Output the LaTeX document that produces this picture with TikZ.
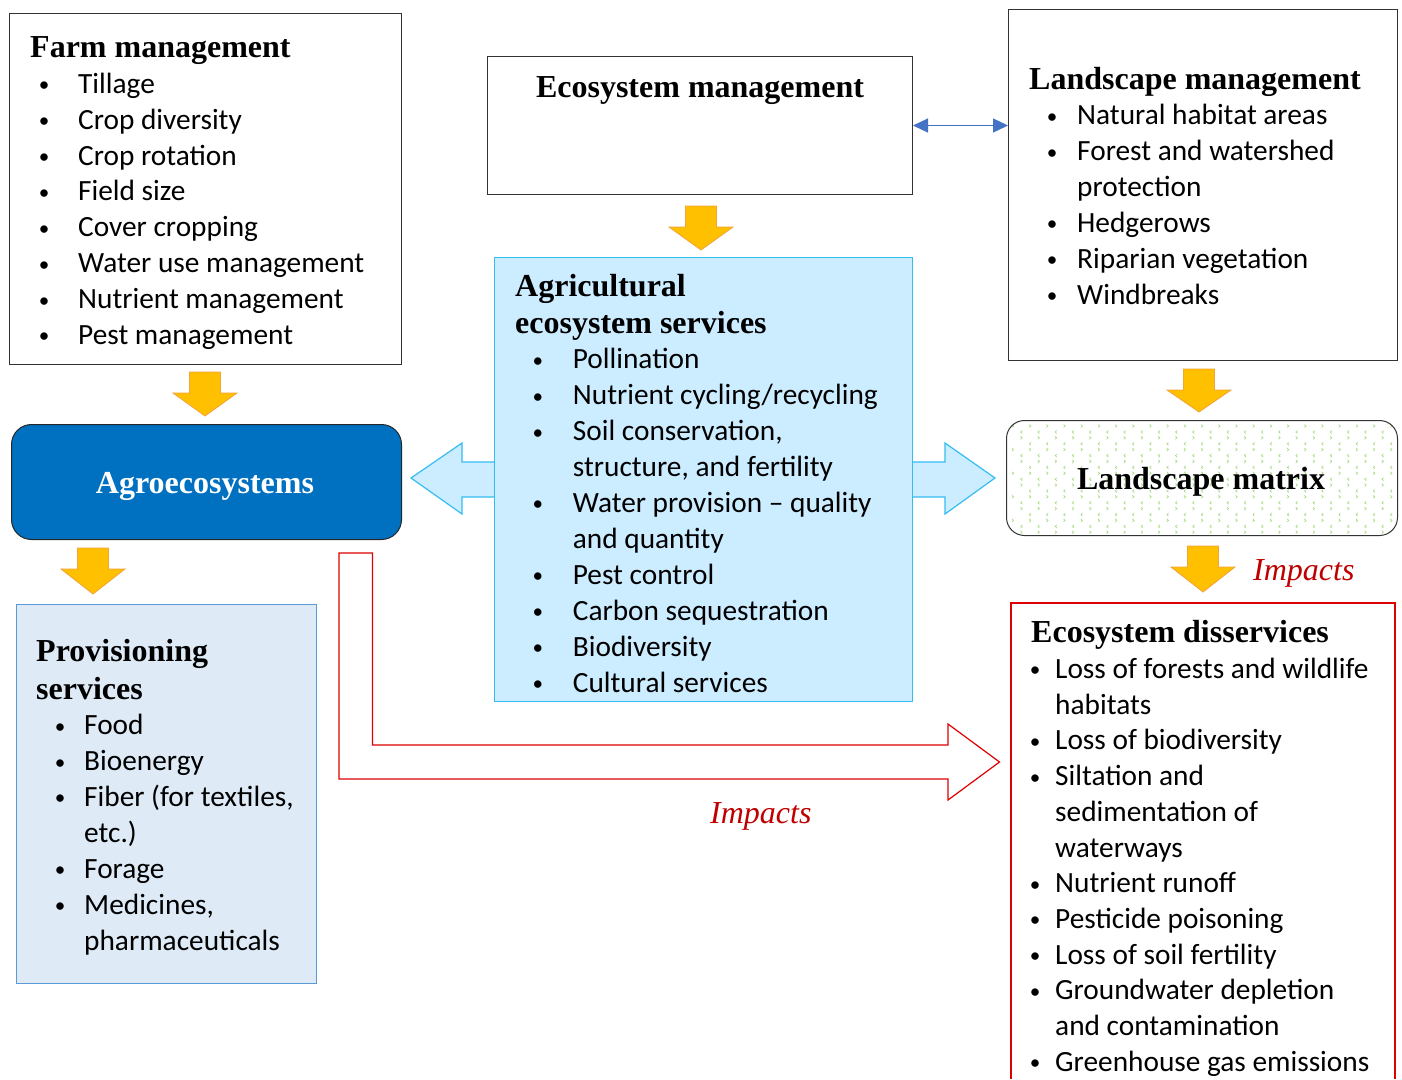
\documentclass[tikz,border=0pt]{standalone}
\usepackage{fontspec}
\setmainfont{Liberation Serif}
\newfontfamily\calfont{Carlito}
\usetikzlibrary{arrows.meta}
\definecolor{orfill}{HTML}{FFC000}
\definecolor{ordraw}{HTML}{F2A33A}
\definecolor{dblue}{HTML}{4472C4}
\definecolor{svfill}{HTML}{CCECFF}
\definecolor{svdraw}{HTML}{35BDF2}
\definecolor{pvfill}{HTML}{DEEBF7}
\definecolor{pvdraw}{HTML}{5B9BD5}
\definecolor{agfill}{HTML}{0070C0}
\definecolor{impred}{HTML}{C00000}
\definecolor{arred}{HTML}{DD0000}
\definecolor{patgreen}{HTML}{A9DB80}
\newlength\bgap
\newcommand\bitem[1]{\makebox[0pt][c]{\raisebox{1.6pt}{\scalebox{0.72}{•}}}\hspace*{\bgap}#1}
\newcommand\bcont[1]{\hspace*{\bgap}#1}
\begin{document}
\begin{tikzpicture}[x=1pt,y=-1pt,
  box/.style={draw=black!80, line width=1pt, inner sep=0, anchor=north west},
  hd/.style={font=\bfseries\fontsize{32}{37.4}\selectfont, inner sep=0},
  hdl/.style={hd, align=left, anchor=north west},
  lst/.style={inner sep=0, align=left, anchor=north west,
    font=\calfont\fontsize{29.33}{35.9}\selectfont\setlength\bgap{#1}},
  imp/.style={font=\itshape\fontsize{32}{37.4}\selectfont, text=impred, inner sep=0, anchor=base west},
  oarr/.style={fill=orfill, draw=ordraw, line width=0.8pt, line join=miter},
  pics/darrow/.style={code={\draw[oarr] (-15.5,0) -- (15.5,0) -- (15.5,21) -- (32,21) -- (0,#1) -- (-32,21) -- (-15.5,21) -- cycle;}},
]
\useasboundingbox (0,0) rectangle (1402,1079);
\fill[white] (0,0) rectangle (1402,1079);

% ---------- Farm management ----------
\node[box, minimum width=392pt, minimum height=351pt] (farm) at (9,13) {};
\node[hd, anchor=base west] (farmh) at (30,57) {Farm management};
\node[lst=34pt] (farml) at (44,67.87) {\strut\bitem{Tillage}\\\bitem{Crop diversity}\\\bitem{Crop rotation}\\\bitem{Field size}\\\bitem{Cover cropping}\\\bitem{Water use management}\\\bitem{Nutrient management}\\\bitem{Pest management}};

% ---------- Ecosystem management ----------
\node[box, minimum width=425pt, minimum height=138pt] (ecom) at (487,56) {};
\node[hd, anchor=base] (ecomh) at (700,97) {Ecosystem management};

% ---------- Landscape management ----------
\node[box, minimum width=389pt, minimum height=351pt] (landm) at (1008,9) {};
\node[hd, anchor=base west] (landmh) at (1029,89) {Landscape management};
\node[lst=25pt] (landml) at (1052,99.4) {\strut\bitem{Natural habitat areas}\\\bitem{Forest and watershed}\\\bcont{protection}\\\bitem{Hedgerows}\\\bitem{Riparian vegetation}\\\bitem{Windbreaks}};

\draw[dblue, line width=1.2pt, {Triangle[length=15pt,width=14pt]}-{Triangle[length=15pt,width=14pt]}] (ecom.east) -- (landm.west |- ecom.east);

% ---------- orange arrows ----------
\pic at (205,372) {darrow=44};
\pic at (701,206) {darrow=44};
\pic at (93,548) {darrow=46};
\pic at (1199,369) {darrow=43};
\pic at (1203,546) {darrow=46};

% ---------- light blue double block arrow ----------
\draw[fill=svfill, draw=svdraw, line width=1.2pt, line join=miter]
  (411,478) -- (462,443) -- (462,462) -- (945,462) -- (945,443) -- (995,478)
  -- (945,514) -- (945,497) -- (462,497) -- (462,514) -- cycle;

% ---------- Agricultural ecosystem services ----------
\node[box, draw=svdraw, fill=svfill, line width=1.2pt, minimum width=418pt, minimum height=444pt] (serv) at (494,257) {};
\node[hdl] (servh) at (515,270.1) {\strut Agricultural\\ecosystem services};
\node[lst=35pt] (servl) at (537.7,343.6) {\strut\bitem{Pollination}\\\bitem{Nutrient cycling/recycling}\\\bitem{Soil conservation,}\\\bcont{structure, and fertility}\\\bitem{Water provision – quality}\\\bcont{and quantity}\\\bitem{Pest control}\\\bitem{Carbon sequestration}\\\bitem{Biodiversity}\\\bitem{Cultural services}};

% ---------- Agroecosystems ----------
\node[box, fill=agfill, draw=black!85, rounded corners=20pt, minimum width=390pt, minimum height=115pt] (agro) at (11,424) {};
\node[hd, anchor=base, text=white] (agroh) at (205,493) {Agroecosystems};

% ---------- Landscape matrix ----------
\begin{scope}
  \clip[rounded corners=18pt] (1006,420) rectangle (1397,535);
  \foreach \r in {0,...,9} {
    \foreach \c in {0,...,22} {
      \pgfmathsetmacro{\xx}{1012+\c*17.2+mod(\r,2)*8.6}
      \pgfmathsetmacro{\yy}{426+\r*11.8}
      \draw[patgreen, line width=0.7pt] (\xx,\yy-1.4) -- (\xx+1.6,\yy) -- (\xx,\yy+1.4);
      \draw[patgreen, line width=0.7pt] (\xx+10.3,\yy+4.6) -- (\xx+8.7,\yy+6) -- (\xx+10.3,\yy+7.4);
    }
  }
\end{scope}
\node[box, rounded corners=18pt, minimum width=391pt, minimum height=115pt] (matrix) at (1006,420) {};
\node[hd, anchor=base] (matrixh) at (1201,489) {Landscape matrix};

% ---------- Provisioning services ----------
\node[box, draw=pvdraw, fill=pvfill, minimum width=300pt, minimum height=379pt] (prov) at (16,604) {};
\node[hdl] (provh) at (36,635.3) {\strut Provisioning\\services};
\node[lst=24pt] (provl) at (60,709.4) {\strut\bitem{Food}\\\bitem{Bioenergy}\\\bitem{Fiber (for textiles,}\\\bcont{etc.)}\\\bitem{Forage}\\\bitem{Medicines,}\\\bcont{pharmaceuticals}};

% ---------- Ecosystem disservices ----------
\coordinate (disbl) at (1011,1079);
\coordinate (distl) at (1011,603);
\coordinate (distr) at (1395,603);
\coordinate (disbr) at (1395,1079);
\draw[arred, line width=1.2pt] (disbl) -- (distl) -- (distr) -- (disbr);
\node[hd, anchor=base west] (dish) at (1031,642.5) {Ecosystem disservices};
\node[inner sep=0, align=left, anchor=north west, font=\calfont\fontsize{29.33}{35.7}\selectfont\setlength\bgap{20pt}] (disl) at (1035,653.3) {\strut\bitem{Loss of forests and wildlife}\\\bcont{habitats}\\\bitem{Loss of biodiversity}\\\bitem{Siltation and}\\\bcont{sedimentation of}\\\bcont{waterways}\\\bitem{Nutrient runoff}\\\bitem{Pesticide poisoning}\\\bitem{Loss of soil fertility}\\\bitem{Groundwater depletion}\\\bcont{and contamination}\\\bitem{Greenhouse gas emissions}};

% ---------- Red hollow bent arrow ----------
\draw[arred, line width=1.2pt, line join=miter]
  (339,553) -- (372.5,553) -- (372.5,745) -- (948,745) -- (948,724) -- (999.5,762)
  -- (948,800) -- (948,779) -- (339,779) -- cycle;

% ---------- Impacts ----------
\node[imp] (imp1) at (1253,580) {Impacts};
\node[imp] (imp2) at (710,823) {Impacts};
\end{tikzpicture}
\end{document}
